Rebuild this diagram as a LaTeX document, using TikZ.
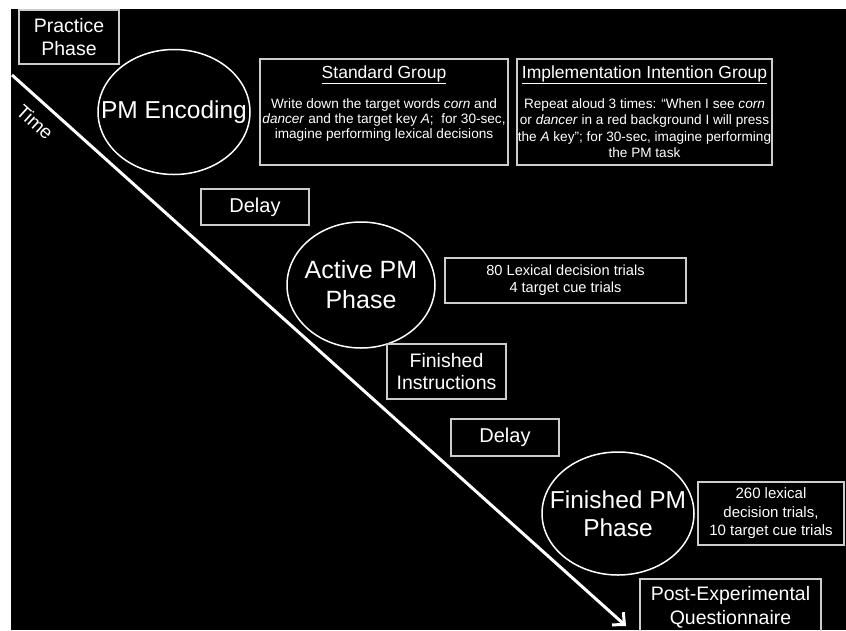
\documentclass[tikz,border=0pt]{standalone}
\usepackage{fontspec}
\setmainfont{Liberation Sans}
\usetikzlibrary{arrows.meta,shapes.geometric}
\definecolor{boxline}{RGB}{205,205,205}
\begin{document}
\begin{tikzpicture}[x=1pt,y=-1pt,
  box/.style={draw=boxline, line width=1.4pt, inner sep=0pt, text=white, align=center},
  oval/.style={ellipse, draw=white, line width=1.5pt, inner sep=0pt},
  txt/.style={text=white, align=center, inner sep=0pt},
  timeline/.style={draw=white, line width=3pt, -{Straight Barb[length=9pt,width=17pt]}}
]
\clip (0,0) rectangle (846,630);
\fill[white] (0,0) rectangle (846,630);
\fill[black] (11,9) rectangle (846,630);

% time arrow
\coordinate (tstart) at (12,75);
\coordinate (tend) at (626,626);
\draw[timeline] (tstart) -- (tend);
\node[txt, rotate=-42, font=\fontsize{19}{22}\selectfont] (time) at (35,122) {Time};

% practice phase
\node[box, minimum width=100pt, minimum height=54pt, font=\fontsize{19.5}{23}\selectfont] (practice) at (69,37) {Practice\\Phase};

% PM encoding
\node[oval, minimum width=152pt, minimum height=125pt] (enc) at (174,112) {};
\node[txt, font=\fontsize{24.5}{29}\selectfont] (enclabel) at (enc.center) {PM Encoding};

% standard group
\node[box, minimum width=248pt, minimum height=106pt] (std) at (384,112) {};
\node[txt, font=\fontsize{17.5}{20}\selectfont] (stdhead) at (384,75) {\underline{Standard Group}};
\node[txt, font=\fontsize{13.6}{15}\selectfont] (stdbody) at (384,120)
  {Write down the target words \textit{corn} and\\
   \textit{dancer} and the target key \textit{A};\ \ for 30-sec,\\
   imagine performing lexical decisions};

% implementation intention group
\node[box, minimum width=255pt, minimum height=106pt] (impl) at (644.5,112) {};
\node[txt, font=\fontsize{17.5}{20}\selectfont] (implhead) at (644.5,75) {\underline{Implementation Intention Group}};
\node[txt, font=\fontsize{13.6}{16.5}\selectfont] (implbody) at (644.5,128)
  {Repeat aloud 3 times: “When I see \textit{corn}\\
   or \textit{dancer} in a red background I will press\\
   the \textit{A} key”; for 30-sec, imagine performing\\
   the PM task};

% delay 1
\node[box, minimum width=108pt, minimum height=36pt, font=\fontsize{20}{24}\selectfont] (delay1) at (255,207) {Delay};

% active PM phase
\node[oval, minimum width=148pt, minimum height=126pt] (active) at (361,285) {};
\node[txt, font=\fontsize{25}{30}\selectfont] (activelabel) at (active.center) {Active PM\\Phase};

\node[box, minimum width=241pt, minimum height=45pt, font=\fontsize{14.6}{17}\selectfont] (lex80) at (565.5,280.5) {80 Lexical decision trials\\4 target cue trials};

% finished instructions
\node[box, minimum width=119pt, minimum height=55pt, font=\fontsize{19.5}{22}\selectfont] (instr) at (446.5,371.5) {Finished\\Instructions};

% delay 2
\node[box, minimum width=108pt, minimum height=37pt, font=\fontsize{20}{24}\selectfont] (delay2) at (505,437.5) {Delay};

% finished PM phase
\node[oval, minimum width=152pt, minimum height=123pt] (finpm) at (618,513.5) {};
\node[txt, font=\fontsize{24.5}{28.5}\selectfont] (finpmlabel) at (finpm.center) {Finished PM\\Phase};

\node[box, minimum width=146pt, minimum height=63pt, font=\fontsize{15}{18.5}\selectfont] (lex260) at (771,513.5) {260 lexical\\decision trials,\\10 target cue trials};

% post-experimental questionnaire
\node[box, minimum width=181pt, minimum height=66pt] (post) at (730.5,612) {};
\node[txt, font=\fontsize{19.5}{24}\selectfont] (postlabel) at (730.5,607) {Post-Experimental\\Questionnaire};
\end{tikzpicture}
\end{document}
